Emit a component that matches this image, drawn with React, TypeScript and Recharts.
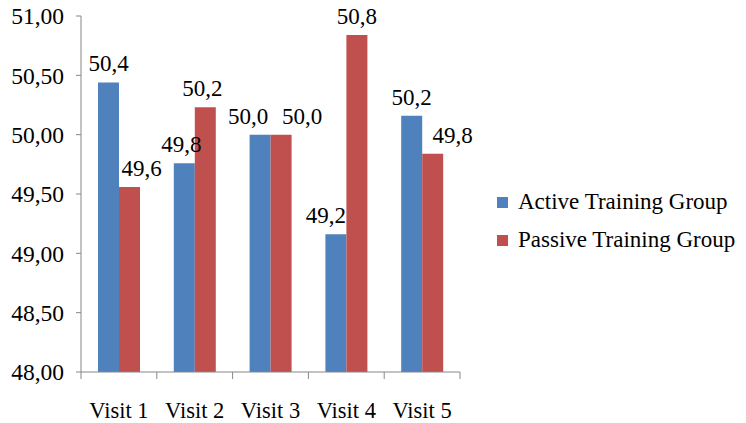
import { BarChart, Bar, XAxis, YAxis, Legend, LabelList } from "recharts";

const visits = ["Visit 1", "Visit 2", "Visit 3", "Visit 4", "Visit 5"];
const activeGroup = [50.44, 49.76, 50.0, 49.16, 50.16];
const passiveGroup = [49.56, 50.23, 50.0, 50.84, 49.84];
const yTicks = [48, 48.5, 49, 49.5, 50, 50.5, 51];

const data = visits.map((name, i) => ({
  name,
  active: activeGroup[i],
  passive: passiveGroup[i],
}));

const FONT = "'Liberation Serif', 'Times New Roman', serif";
const BLUE = "#4F81BD";
const RED = "#C0504D";
const AXIS = "#878787";

// small sideways nudges, the original moves some labels off-centre
const activeNudge = [0, -3, -12, -10, 0];
const passiveNudge = [12, -3, 21, 0, 20];

const fmtComma = (v: number, d: number) => v.toFixed(d).replace(".", ",");

const makeLabel = (nudge: number[]) => (props: any) => {
  const { x, y, width, value, index } = props;
  return (
    <text
      x={x + width / 2 + (nudge[index] || 0)}
      y={y - 11}
      textAnchor="middle"
      fontSize={23}
      fontFamily={FONT}
      fill="#000"
    >
      {fmtComma(value, 1)}
    </text>
  );
};

const VisitTick = (props: any) => {
  const { x, y, payload, index, visibleTicksCount } = props;
  const half = payload.offset || 37.9;
  return (
    <g>
      <line x1={x - half} y1={y} x2={x - half} y2={y + 7} stroke={AXIS} />
      {index === visibleTicksCount - 1 && (
        <line x1={x + half} y1={y} x2={x + half} y2={y + 7} stroke={AXIS} />
      )}
      <text x={x} y={y + 30} dy="0.71em" textAnchor="middle" fontSize={22.5} fontFamily={FONT} fill="#000">
        {payload.value}
      </text>
    </g>
  );
};

const LegendBox = () => (
  <div style={{ fontFamily: FONT, fontSize: 23, color: "#000" }}>
    {[
      { label: "Active Training Group", color: BLUE },
      { label: "Passive Training Group", color: RED },
    ].map((it) => (
      <div key={it.label} style={{ display: "flex", alignItems: "center", height: 38, whiteSpace: "nowrap" }}>
        <span style={{ width: 11, height: 11, background: it.color, marginRight: 10, display: "inline-block" }} />
        <span>{it.label}</span>
      </div>
    ))}
  </div>
);

export default function App() {
  return (
    <div style={{ position: "absolute", left: 0, top: 0, background: "#fff" }}>
      <BarChart
        width={746}
        height={423}
        data={data}
        margin={{ top: 16, right: 286, bottom: 0, left: 0 }}
        barGap={0}
        barSize={21}
        style={{ fontFamily: FONT }}
      >
        <XAxis
          dataKey="name"
          height={51}
          tickSize={0}
          tickMargin={0}
          tickLine={false}
          axisLine={{ stroke: AXIS }}
          tick={<VisitTick />}
          interval={0}
        />
        <YAxis
          width={81}
          domain={[48, 51]}
          ticks={yTicks}
          tickFormatter={(v: number) => fmtComma(v, 2)}
          tickSize={5}
          tickMargin={12}
          tickLine={{ stroke: AXIS }}
          axisLine={{ stroke: AXIS }}
          tick={{ fill: "#000", fontSize: 23.5, fontFamily: FONT }}
          allowDataOverflow
        />
        <Legend
          layout="vertical"
          align="center"
          verticalAlign="middle"
          wrapperStyle={{ left: 497, top: 183, width: 249 }}
          content={<LegendBox />}
        />
        <Bar dataKey="active" name="Active Training Group" fill={BLUE} isAnimationActive={false}>
          <LabelList dataKey="active" content={makeLabel(activeNudge)} />
        </Bar>
        <Bar dataKey="passive" name="Passive Training Group" fill={RED} isAnimationActive={false}>
          <LabelList dataKey="passive" content={makeLabel(passiveNudge)} />
        </Bar>
      </BarChart>
    </div>
  );
}
